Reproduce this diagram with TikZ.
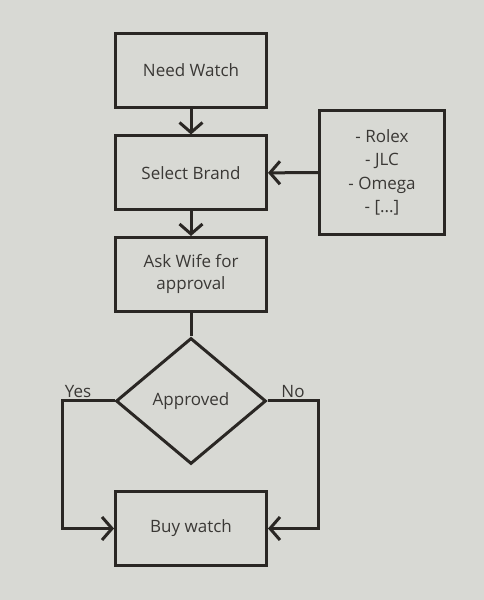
\documentclass[tikz,border=0pt]{standalone}
\usepackage{fontspec}
\setmainfont{Open Sans}
\usetikzlibrary{positioning,shapes.geometric,arrows.meta}
\definecolor{WBack}{HTML}{D8D9D4}
\definecolor{WLine}{HTML}{2A2724}
\definecolor{WText}{HTML}{3A3835}

\begin{document}
\begin{tikzpicture}[x=1pt,y=1pt,
  stepbox/.style={draw=WLine,line width=3pt,fill=WBack,text=WText,
    minimum width=151pt,minimum height=74pt,inner sep=0pt,align=center,
    font=\fontsize{17}{22}\selectfont},
  listbox/.style={stepbox,minimum width=125pt,minimum height=124pt,
    font=\fontsize{17}{23.5}\selectfont},
  decision/.style={diamond,draw=WLine,line width=3pt,fill=WBack,text=WText,
    minimum width=150pt,minimum height=126pt,inner sep=0pt,
    font=\fontsize{17}{22}\selectfont},
  flow/.style={draw=WLine,line width=3pt,
    -{Straight Barb[length=10pt,width=23pt]}},
  link/.style={draw=WLine,line width=3pt},
  lbl/.style={text=WText,font=\fontsize{17}{20}\selectfont,inner sep=2pt}]
\path[use as bounding box] (0,0) rectangle (484,600);
\fill[WBack] (0,0) rectangle (484,600);

% main column
\node[stepbox] (need) at (191,529.5) {Need Watch};
\node[stepbox] (brand) at (191,427) {Select Brand};
\node[stepbox] (ask) at (191,325.5) {Ask Wife for\\approval};
\node[decision] (ok) at (191,199) {Approved};
\node[stepbox] (buy) at (191,71.5) {Buy watch};
% brands
\node[listbox] (list) at (382,427.5) {- Rolex\\- JLC\\- Omega\\- [...]};

\draw[flow] (need) -- (brand);
\draw[flow] (brand) -- (ask);
\draw[flow] (list) -- (brand);
\draw[link] (ask) -- (ok);
\draw[flow] (ok.west) -- node[lbl,above,pos=.7] {Yes} ++(-52,0) |- (buy.west);
\draw[flow] (ok.east) -- node[lbl,above] {No} ++(51,0) |- (buy.east);
\end{tikzpicture}
\end{document}
